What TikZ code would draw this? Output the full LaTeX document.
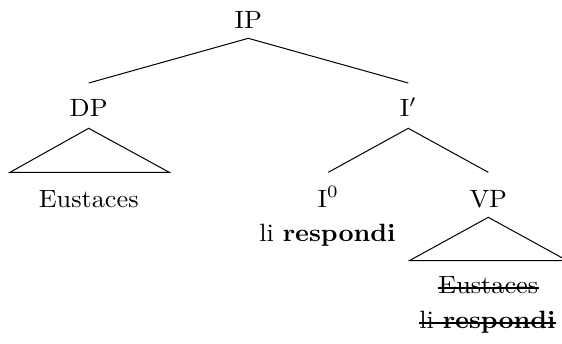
\documentclass[tikz,border=0pt]{standalone}
\usetikzlibrary{calc}
\begin{document}
\begin{tikzpicture}[x=0.4pt,y=-0.4pt,
  lab/.style={anchor=base, inner sep=0pt, xscale=1.05},
  edge/.style={line width=0.4pt},
  strike/.style={line width=0.8pt}]
\useasboundingbox (0,0) rectangle (562,343);
\node[lab] (IP)   at (248.3,28.3)  {IP};
\node[lab] (DP)   at (88.7,116.7)  {DP};
\node[lab] (Ip)   at (408.3,116.7) {I$'$};
\node[lab] (Eus)  at (88.7,207)    {Eustaces};
\node[lab] (I0)   at (328.3,207)   {I$^0$};
\node[lab] (VP)   at (488.3,207.5) {VP};
\node[lab] (li)   at (327.5,241.7) {li \textbf{respondi}};
\node[lab] (sEus) at (488.3,293.3) {Eustaces};
\node[lab] (sli)  at (487.5,328.3) {li \textbf{respondi}};
% strike-through lines
\draw[strike] ($(sEus.base west)+(0,-5.5)$) -- ($(sEus.base east)+(0,-5.5)$);
\draw[strike] ($(sli.base west)+(0,-5.5)$) -- ($(sli.base east)+(0,-5.5)$);
% IP branches
\draw[edge] ($(DP.base)+(0,-33.7)$) -- ($(IP.base)+(0,10)$) -- ($(Ip.base)+(0,-33.7)$);
% DP triangle
\draw[edge] ($(DP.base)+(0,11.6)$) -- ($(Eus.base)+(-78.7,-34.7)$) -- ($(Eus.base)+(80.6,-34.7)$) -- cycle;
% I' branches
\draw[edge] ($(I0.base)+(0,-34.7)$) -- ($(Ip.base)+(0,11.6)$) -- ($(VP.base)+(0,-35.2)$);
% VP triangle
\draw[edge] ($(VP.base)+(0,9.8)$) -- ($(sEus.base)+(-79,-32.6)$) -- ($(sEus.base)+(79,-32.6)$) -- cycle;
\end{tikzpicture}
\end{document}
